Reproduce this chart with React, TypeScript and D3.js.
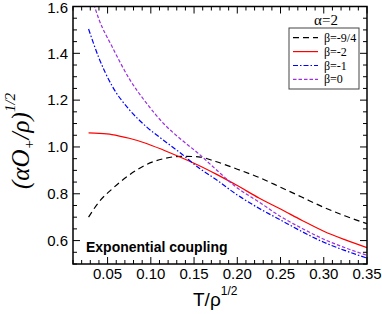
import React from "react";
import * as d3 from "d3";

const tValues = [0.028, 0.04, 0.055, 0.075, 0.095, 0.115, 0.135, 0.155, 0.175, 0.2, 0.225, 0.25, 0.275, 0.3, 0.325, 0.35];
const betaM94 = [0.70, 0.765, 0.82, 0.88, 0.925, 0.95, 0.96, 0.958, 0.938, 0.905, 0.87, 0.828, 0.785, 0.742, 0.705, 0.672];
const betaM2 = [1.06, 1.058, 1.053, 1.037, 1.015, 0.986, 0.955, 0.922, 0.885, 0.835, 0.782, 0.735, 0.686, 0.64, 0.603, 0.57];
const betaM1 = [1.504, 1.38, 1.262, 1.16, 1.086, 1.028, 0.972, 0.912, 0.862, 0.795, 0.738, 0.688, 0.638, 0.593, 0.557, 0.525];
const tValuesBeta0 = [0.034, 0.04, 0.055, 0.075, 0.095, 0.115, 0.135, 0.155, 0.175, 0.2, 0.225, 0.25, 0.275, 0.3, 0.325, 0.35];
const beta0 = [1.61, 1.545, 1.43, 1.292, 1.187, 1.099, 1.032, 0.972, 0.905, 0.825, 0.765, 0.703, 0.652, 0.606, 0.569, 0.537];

const legendLabels = ["β=-9/4", "β=-2", "β=-1", "β=0"];
const xTicks = [0.05, 0.1, 0.15, 0.2, 0.25, 0.3, 0.35];
const yTicks = [0.6, 0.8, 1.0, 1.2, 1.4, 1.6];

const W = 382, H = 314;
const L = 73, R = 367, T = 6.5, B = 264;

export default function App() {
  const x = d3.scaleLinear().domain([0.01, 0.35]).range([L, R]);
  const y = d3.scaleLinear().domain([0.5, 1.6]).range([B, T]);
  const line = d3.line<[number, number]>().x(d => x(d[0])).y(d => y(d[1])).curve(d3.curveMonotoneX);

  const series = [
    { xs: tValues, ys: betaM94, color: "#000000", dash: "6,4" },
    { xs: tValues, ys: betaM2, color: "#ff0000", dash: null },
    { xs: tValues, ys: betaM1, color: "#0000ff", dash: "5,2,1.5,2" },
    { xs: tValuesBeta0, ys: beta0, color: "#9a30e0", dash: "3.5,2" },
  ];

  const xMinor = d3.range(1, 36).map(i => i / 100);
  const yMinor = d3.range(10, 33).map(i => i * 0.05);
  const isMajorX = (v: number) => Math.abs(v * 20 - Math.round(v * 20)) < 1e-6;
  const isMajorY = (v: number) => Math.abs(v * 5 - Math.round(v * 5)) < 1e-6;

  const lx = 289, ly = 28, lw = 70, lh = 61;

  return (
    <svg width={W} height={H} style={{ position: "absolute", left: 0, top: 0, background: "#fff" }}>
      <defs>
        <clipPath id="plot"><rect x={L} y={T} width={R - L} height={B - T} /></clipPath>
      </defs>
      <rect x={0} y={0} width={W} height={H} fill="#fff" />
      {/* ticks */}
      <g stroke="#000" strokeWidth={1}>
        {xMinor.map((v, i) => {
          const len = isMajorX(v) ? 7 : 4;
          const px = x(v);
          return (
            <g key={"xt" + i}>
              <line x1={px} x2={px} y1={B} y2={B - len} />
              <line x1={px} x2={px} y1={T} y2={T + len} />
            </g>
          );
        })}
        {yMinor.map((v, i) => {
          const len = isMajorY(v) ? 7 : 4;
          const py = y(v);
          return (
            <g key={"yt" + i}>
              <line x1={L} x2={L + len} y1={py} y2={py} />
              <line x1={R} x2={R - len} y1={py} y2={py} />
            </g>
          );
        })}
      </g>
      {/* curves */}
      <g clipPath="url(#plot)" fill="none">
        {series.map((s, i) => (
          <path key={i} d={line(s.xs.map((v, j) => [v, s.ys[j]] as [number, number])) || ""}
            stroke={s.color} strokeWidth={1.2} strokeDasharray={s.dash || undefined} />
        ))}
      </g>
      <rect x={L} y={T} width={R - L} height={B - T} fill="none" stroke="#000" strokeWidth={1.5} />
      {/* tick labels */}
      <g fontFamily="'Liberation Sans', Arial, sans-serif" fontSize={15} fill="#000">
        {xTicks.map((v, i) => (
          <text key={"xl" + i} x={x(v)} y={279} textAnchor="middle">{v.toFixed(2)}</text>
        ))}
        {yTicks.map((v, i) => (
          <text key={"yl" + i} x={68} y={Math.max(y(v) + 5.3, 12.6)} textAnchor="end">{v.toFixed(1)}</text>
        ))}
      </g>
      {/* x title */}
      <text x={193} y={306} fontFamily="'Liberation Sans', Arial, sans-serif" fontSize={19} fill="#000">
        T/ρ<tspan fontSize={12} dy={-11}>1/2</tspan>
      </text>
      {/* y title */}
      <text transform="rotate(-90)" x={-189} y={29} fontFamily="'Liberation Serif', 'Times New Roman', serif"
        fontStyle="italic" fontSize={25} fill="#000">
        (αO<tspan fontSize={15} dy={5}>+</tspan><tspan dy={-5}>/ρ)</tspan><tspan fontSize={15} dy={-14}>1/2</tspan>
      </text>
      {/* annotation */}
      <text x={86} y={252} fontFamily="'Liberation Sans', Arial, sans-serif" fontWeight="bold" fontSize={14} fill="#000">
        Exponential coupling
      </text>
      {/* legend */}
      <text x={326} y={25} textAnchor="middle" fontFamily="'Liberation Serif', 'Times New Roman', serif" fontSize={15}>α=2</text>
      <rect x={lx} y={ly} width={lw} height={lh} fill="#fff" stroke="#444" strokeWidth={1} />
      {series.map((s, i) => {
        const yy = 37.7 + i * 13.9;
        return (
          <g key={"lg" + i}>
            <line x1={293} x2={318} y1={yy} y2={yy} stroke={s.color} strokeWidth={1.2} strokeDasharray={s.dash || undefined} />
            <text x={324} y={yy + 4} fontFamily="'Liberation Serif', 'Times New Roman', serif" fontSize={12}>{legendLabels[i]}</text>
          </g>
        );
      })}
    </svg>
  );
}
